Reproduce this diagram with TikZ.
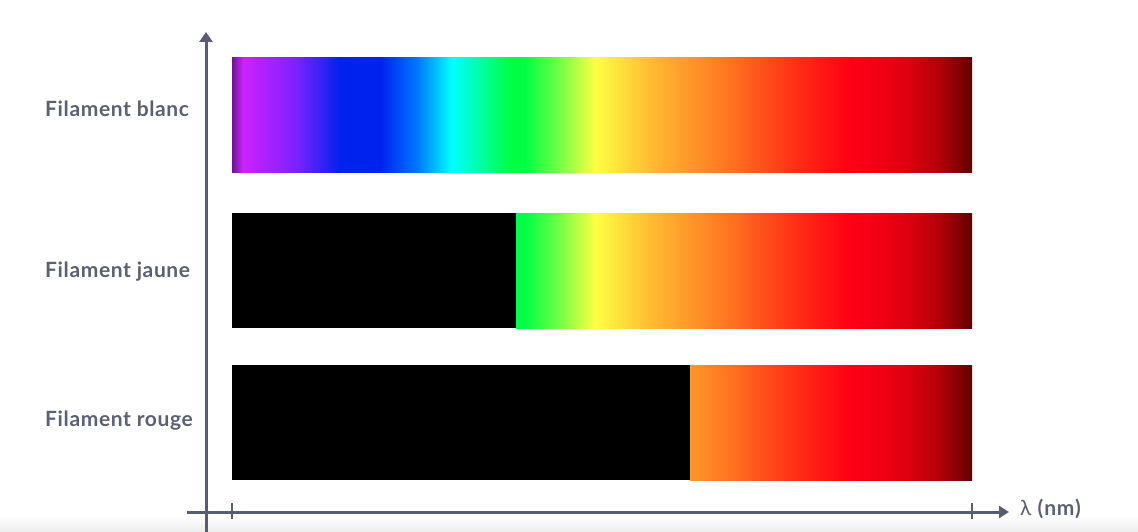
\documentclass[tikz,border=0pt]{standalone}
\usepackage{fontspec}
\setmainfont{Lato}
\newfontfamily\labfont[LetterSpace=3]{Lato Bold}
\newfontfamily\axfont[LetterSpace=4]{Lato}
\newfontfamily\axbfont[LetterSpace=4]{Lato Bold}
\usetikzlibrary{arrows.meta}
\definecolor{axisc}{HTML}{585D70}
\definecolor{textc}{HTML}{5B6072}
\definecolor{bandc}{HTML}{EDEDED}
\definecolor{s01}{HTML}{6A1590}
\definecolor{s02}{HTML}{CC22FF}
\definecolor{s03}{HTML}{7722FF}
\definecolor{s04}{HTML}{0022EE}
\definecolor{s05}{HTML}{0077FF}
\definecolor{s06}{HTML}{00FFFF}
\definecolor{s07}{HTML}{00FF44}
\definecolor{s08}{HTML}{88FF44}
\definecolor{s09}{HTML}{FFFF44}
\definecolor{s10}{HTML}{FFBB33}
\definecolor{s11}{HTML}{FF7722}
\definecolor{s12}{HTML}{FF2A15}
\definecolor{s13}{HTML}{FF0015}
\definecolor{s14}{HTML}{E00010}
\definecolor{s15}{HTML}{B00008}
\definecolor{s16}{HTML}{600000}
% positions: 25 + 50*(x-232)/740
\pgfdeclarehorizontalshading{spectrum}{100bp}{%
color(0bp)=(s01);
color(25bp)=(s01);
color(25.75bp)=(s02);
color(29.46bp)=(s03);
color(32.30bp)=(s04);
color(35.00bp)=(s04);
color(37.50bp)=(s05);
color(39.86bp)=(s06);
color(43.78bp)=(s07);
color(44.80bp)=(s07);
color(47.50bp)=(s08);
color(49.53bp)=(s09);
color(53.24bp)=(s10);
color(58.31bp)=(s11);
color(63.38bp)=(s12);
color(66.76bp)=(s13);
color(70.47bp)=(s14);
color(72.84bp)=(s15);
color(75bp)=(s16);
color(100bp)=(s16)}
\begin{document}
\begin{tikzpicture}[x=1pt,y=-1pt,
  axisline/.style={draw=axisc,line width=3pt},
  tickline/.style={draw=axisc,line width=2pt},
  specbar/.style={shading=spectrum},
  blackbar/.style={fill=black},
  lab/.style={font=\labfont\fontsize{21}{24}\selectfont,text=textc,anchor=base west,inner sep=0pt}]
\useasboundingbox (0,0) rectangle (1138,532);
\shade[top color=white,bottom color=bandc] (0,515) rectangle (1138,532);
% bars
\path[specbar] (232,58) rectangle (972,173);
\begin{scope}
\clip (516,213) rectangle (972,328);
\path[specbar] (232,213) rectangle (972,328);
\end{scope}
\fill[blackbar] (232,213) rectangle (516.3,328);
\begin{scope}
\clip (690,365) rectangle (972,480);
\path[specbar] (232,365) rectangle (972,480);
\end{scope}
\fill[blackbar] (232,365) rectangle (690.3,480);
% axes
\coordinate (ybot) at (206,532);
\coordinate (ytop) at (206,32);
\coordinate (xl) at (187,512);
\coordinate (xr) at (1009,512);
\draw[axisline,-{Triangle[width=13pt,length=10pt]}] (ybot) -- (ytop);
\draw[axisline,-{Triangle[width=12pt,length=10pt]}] (xl) -- (xr);
\coordinate (t1a) at (232,503); \coordinate (t1b) at (232,519);
\coordinate (t2a) at (972,503); \coordinate (t2b) at (972,519);
\draw[tickline] (t1a) -- (t1b);
\draw[tickline] (t2a) -- (t2b);
% labels
\node[lab] (l1) at (45,117) {Filament blanc};
\node[lab] (l2) at (45,277) {Filament jaune};
\node[lab] (l3) at (45,426) {Filament rouge};
\node[text=textc,anchor=base west,inner sep=0pt,font=\fontsize{21}{24}\selectfont] (xlab) at (1020,515) {\axfont λ \axbfont (nm)};
\end{tikzpicture}
\end{document}
